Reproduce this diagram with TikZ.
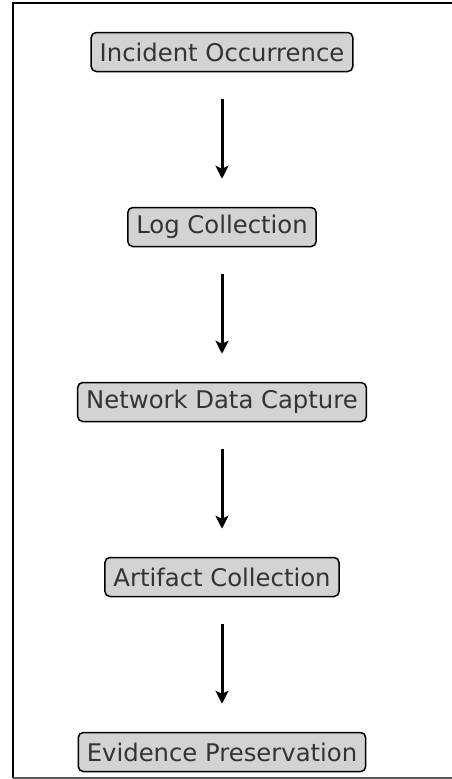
\documentclass[tikz,border=0pt]{standalone}
\usepackage{fontspec}
\setmainfont{DejaVu Sans}
\usetikzlibrary{arrows.meta}
\definecolor{boxfill}{HTML}{D3D3D3}
\definecolor{boxtext}{HTML}{333333}
\begin{document}
\begin{tikzpicture}[x=1pt,y=-1pt,
  stage/.style={draw=black, line width=1.5pt, fill=boxfill, rounded corners=5pt,
    text=boxtext, font=\fontsize{24.3}{28}\selectfont, inner xsep=8.5pt,
    minimum height=39pt, anchor=center},
  flow/.style={line width=3pt, -{Stealth[length=13pt,width=13pt,inset=3pt]},
    shorten <=27pt, shorten >=28pt}]
  \useasboundingbox (0,0) rectangle (452,779);
  % frame edges
  \draw[line width=2pt] (13,778) -- (13,3) -- (452,3);
  \draw[line width=2pt, black!65] (13,778) -- (452,778);
  % stages
  \node[stage] (s1) at (222,52)  {Incident Occurrence};
  \node[stage] (s2) at (222,227) {Log Collection};
  \node[stage] (s3) at (222,402) {Network Data Capture};
  \node[stage] (s4) at (222,577) {Artifact Collection};
  \node[stage] (s5) at (222,752) {Evidence Preservation};
  % connectors
  \draw[flow] (s1) -- (s2);
  \draw[flow] (s2) -- (s3);
  \draw[flow] (s3) -- (s4);
  \draw[flow] (s4) -- (s5);
\end{tikzpicture}
\end{document}
